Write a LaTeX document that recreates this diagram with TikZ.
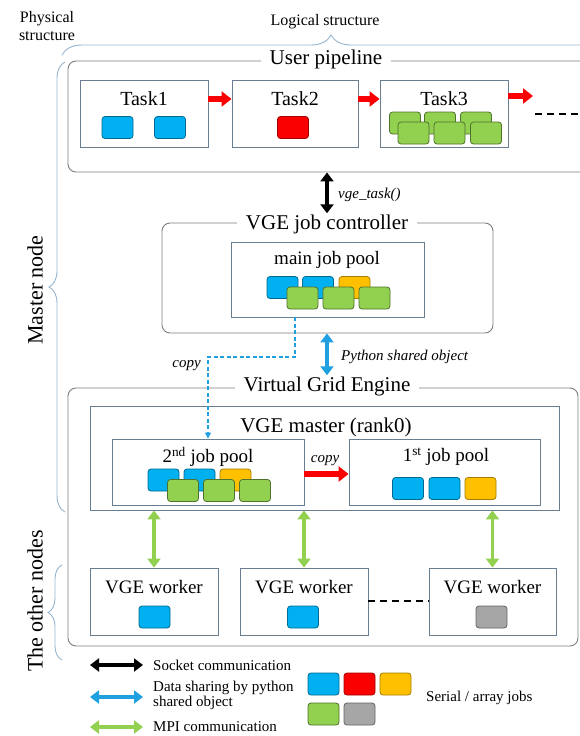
\documentclass[tikz,border=0pt]{standalone}
\usepackage{fontspec}
\setmainfont{Liberation Serif}
\usetikzlibrary{arrows.meta,decorations.pathreplacing}
\newcommand{\pxfont}[1]{\fontsize{#1}{#1}\selectfont}
\definecolor{boxline}{RGB}{105,125,145}
\definecolor{groupline}{RGB}{125,125,125}
\definecolor{braceline}{RGB}{150,180,205}
\definecolor{jobblue}{RGB}{0,176,240}
\definecolor{jobred}{RGB}{250,0,0}
\definecolor{joborange}{RGB}{255,192,0}
\definecolor{jobgreen}{RGB}{146,208,80}
\definecolor{jobgray}{RGB}{166,166,166}
\definecolor{pyblue}{RGB}{30,160,225}

\begin{document}
\begin{tikzpicture}[x=1pt, y=-1pt,
	 box/.style={draw=boxline, line width=0.9pt, inner sep=0pt},
	 groupbox/.style={draw=groupline, line width=0.9pt, rounded corners=8pt, inner sep=0pt},
	 title/.style={fill=white, inner xsep=9pt, inner ysep=1pt, font=\pxfont{21}},
	 boxtext/.style={inner sep=1pt, font=\pxfont{19}},
	 note/.style={inner sep=1pt, font=\pxfont{15}\itshape},
	 legtext/.style={inner sep=1pt, anchor=west, align=left, font=\pxfont{15}},
	 job/.style={line width=0.8pt, rounded corners=3pt, minimum width=31pt, minimum height=22pt, inner sep=0pt},
	 jb/.style={job, draw=jobblue!60!black, fill=jobblue},
	 jr/.style={job, draw=jobred!65!black, fill=jobred},
	 jo/.style={job, draw=joborange!65!black, fill=joborange},
	 jg/.style={job, draw=jobgreen!55!black, fill=jobgreen},
	 jgr/.style={job, draw=jobgray!60!black, fill=jobgray},
	 curly/.style={draw=braceline, line width=0.9pt, decorate},
	 redarrow/.style={draw=jobred, line width=6pt, -{Triangle[length=10pt, width=15pt]}},
	 sockarrow/.style={draw=black, line width=3.5pt, {Triangle[length=9pt, width=13pt]}-{Triangle[length=9pt, width=13pt]}},
	 pyarrow/.style={sockarrow, draw=pyblue},
	 mpiarrow/.style={sockarrow, draw=jobgreen},
	 copyline/.style={draw=pyblue, line width=1.2pt, dash pattern=on 4pt off 2.5pt, -{Triangle[length=6pt, width=6pt]}},
	 dots/.style={draw=black, line width=1.6pt, dash pattern=on 7pt off 5pt}]
	 \useasboundingbox (0,0) rectangle (580,736);
	 \clip (0,0) rectangle (580,736);

	 % structure labels and braces
	 \node[align=center, font=\pxfont{16}] (phys) at (47,26) {Physical\\[2pt]structure};
	 \node[font=\pxfont{16}] (logic) at (325,22) {Logical structure};
	 \draw[curly, decoration={brace, amplitude=20pt}] (62,55) -- (600,55);
	 \draw[curly, decoration={brace, amplitude=16pt}] (65,512) -- (65,62);
	 \draw[curly, decoration={brace, amplitude=14pt}] (62,660) -- (62,565);
	 \node[rotate=90, font=\pxfont{22}] (mastern) at (35,290) {Master node};
	 \node[rotate=90, font=\pxfont{22}] (othern) at (35,601) {The other nodes};

	 % user pipeline
	 \node[groupbox, minimum width=522pt, minimum height=111pt] (pipe) at (329,116.5) {};
	 \node[title] (pipelbl) at (326,59) {User pipeline};
	 \node[box, minimum width=128pt, minimum height=67pt] (t1) at (144,113.5) {};
	 \node[box, minimum width=126pt, minimum height=67pt] (t2) at (295,113.5) {};
	 \node[box, minimum width=128pt, minimum height=67pt] (t3) at (444,113.5) {};
	 \node[boxtext, font=\pxfont{20}] (t1lbl) at (144,99) {Task1};
	 \node[boxtext, font=\pxfont{20}] (t2lbl) at (295,99) {Task2};
	 \node[boxtext, font=\pxfont{20}] (t3lbl) at (444,99) {Task3};
	 \node[jb] (t1a) at (117.5,127.5) {};
	 \node[jb] (t1b) at (170,127.5) {};
	 \node[jr] (t2a) at (293,127.5) {};
	 \node[jg] (t3a) at (405,123) {};
	 \node[jg] (t3b) at (440,123) {};
	 \node[jg] (t3c) at (476,123) {};
	 \node[jg] (t3d) at (413.5,133) {};
	 \node[jg] (t3e) at (449.5,133) {};
	 \node[jg] (t3f) at (486,133) {};
	 \coordinate (t4) at (533,96);
	 \coordinate (more1) at (535,114);
	 \coordinate (more2) at (582,114);
	 \draw[redarrow] (t1.east |- t1lbl) -- (t2.west |- t1lbl);
	 \draw[redarrow] (t2.east |- t1lbl) -- (t3.west |- t1lbl);
	 \draw[redarrow] (t3.east |- t4) -- (t4);
	 \draw[dots] (more1) -- (more2);

	 % job controller
	 \node[groupbox, minimum width=331pt, minimum height=110pt] (ctrl) at (327.5,278) {};
	 \node[title] (ctrllbl) at (327,224) {VGE job controller};
	 \draw[sockarrow] (ctrllbl.north |- pipe.south) -- (ctrllbl.north);
	 \node[note, anchor=west] (vgetask) at (337,195) {vge\_task()};
	 \node[box, minimum width=193pt, minimum height=75pt] (mainpool) at (327.5,279.5) {};
	 \node[boxtext] (mainlbl) at (327,260) {main job pool};
	 \node[jb] (m1) at (282.5,287.5) {};
	 \node[jb] (m2) at (318,287.5) {};
	 \node[jo] (m3) at (354.5,287.5) {};
	 \node[jg] (m4) at (302.5,298) {};
	 \node[jg] (m5) at (338.5,298) {};
	 \node[jg] (m6) at (374.5,298) {};

	 % virtual grid engine
	 \node[groupbox, minimum width=510pt, minimum height=258pt] (vge) at (323,517) {};
	 \node[title] (vgelbl) at (327,386) {Virtual Grid Engine};
	 \draw[pyarrow] (vgelbl.north |- ctrl.south) -- (vgelbl.north);
	 \node[note, anchor=west] (pyobj) at (340,357) {Python shared object};
	 \node[box, minimum width=469pt, minimum height=104pt] (master) at (324.5,458) {};
	 \node[title, fill=none] (masterlbl) at (326,427) {VGE master (rank0)};
	 \node[box, minimum width=192pt, minimum height=66pt] (pool2) at (208,472) {};
	 \node[box, minimum width=191pt, minimum height=66pt] (pool1) at (444.5,472) {};
	 \node[boxtext] (pool2lbl) at (208,457) {2\textsuperscript{nd} job pool};
	 \node[boxtext] (pool1lbl) at (446,457) {1\textsuperscript{st} job pool};
	 \node[jb] (p2a) at (163.5,480) {};
	 \node[jb] (p2b) at (199.5,480) {};
	 \node[jo] (p2c) at (235.5,480) {};
	 \node[jg] (p2d) at (183,490.5) {};
	 \node[jg] (p2e) at (219,490.5) {};
	 \node[jg] (p2f) at (255,490.5) {};
	 \node[jb] (p1a) at (408,488.5) {};
	 \node[jb] (p1b) at (444.5,488.5) {};
	 \node[jo] (p1c) at (480.5,488.5) {};
	 \coordinate (cpy) at (295,357);
	 \draw[copyline] (mainpool.south -| cpy) -- (cpy) -| (pool2.north);
	 \node[note, anchor=east] (copylbl) at (202,366) {copy};
	 \coordinate (cpy2) at (0,474);
	 \draw[redarrow] (pool2.east |- cpy2) -- (pool1.west |- cpy2);
	 \node[note] (copylbl2) at (325,461) {copy};

	 % workers
	 \node[box, minimum width=128pt, minimum height=67pt] (w1) at (154,601.5) {};
	 \node[box, minimum width=128pt, minimum height=67pt] (w2) at (304,601.5) {};
	 \node[box, minimum width=127pt, minimum height=67pt] (w3) at (492.5,601.5) {};
	 \node[boxtext] (w1lbl) at (154,587) {VGE worker};
	 \node[boxtext] (w2lbl) at (304,587) {VGE worker};
	 \node[boxtext] (w3lbl) at (492.5,587) {VGE worker};
	 \node[jb] (w1a) at (154.5,617) {};
	 \node[jb] (w2a) at (303,617) {};
	 \node[jgr] (w3a) at (491.5,617) {};
	 \draw[mpiarrow] (w1.north |- master.south) -- (w1.north);
	 \draw[mpiarrow] (w2.north |- master.south) -- (w2.north);
	 \draw[mpiarrow] (w3.north |- master.south) -- (w3.north);
	 \draw[dots] (w2.east |- 0,601) -- (w3.west |- 0,601);

	 % legend
	 \coordinate (la1) at (90,665);  \coordinate (lb1) at (143,665);
	 \coordinate (la2) at (90,697);  \coordinate (lb2) at (143,697);
	 \coordinate (la3) at (90,727);  \coordinate (lb3) at (143,727);
	 \draw[sockarrow] (la1) -- (lb1);
	 \draw[pyarrow] (la2) -- (lb2);
	 \draw[mpiarrow] (la3) -- (lb3);
	 \node[legtext] (leg1) at (152,665) {Socket communication};
	 \node[legtext] (leg2) at (152,695) {Data sharing by python\\shared object};
	 \node[legtext] (leg3) at (152,727) {MPI communication};
	 \node[jb] (lj1) at (323.5,684) {};
	 \node[jr] (lj2) at (359.5,684) {};
	 \node[jo] (lj3) at (395.5,684) {};
	 \node[jg] (lj4) at (323.5,714) {};
	 \node[jgr] (lj5) at (359.5,714) {};
	 \node[legtext] (leg4) at (425,698) {Serial / array jobs};
\end{tikzpicture}
\end{document}
